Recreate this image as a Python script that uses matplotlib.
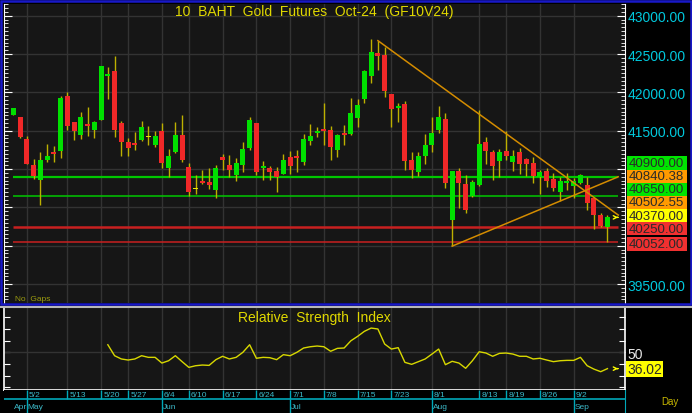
import matplotlib
matplotlib.use("Agg")
import matplotlib.pyplot as plt
import matplotlib.transforms as mtransforms
from matplotlib.patches import Rectangle
from matplotlib.lines import Line2D
from matplotlib.ticker import MultipleLocator, FuncFormatter
import numpy as np

plt.rcParams["font.family"] = ["Liberation Sans", "DejaVu Sans"]

# daily bars 4/29 .. 9/9, one entry per trading day
opens = [41705, 41679, 41392, 41053, 40862, 41119, 41227, 41240, 41949, 41610,
         41445, 41588, 41514, 41644, 42214, 42279, 41601, 41349, 41340, 41379,
         41423, 41314, 41501, 41019, 41219, 41445, 41027, 40736, 40849, 40827,
         40727, 41158, 41058, 40927, 41058, 41279, 41601, 41019, 41014, 40975,
         40936, 41162, 41166, 41088, 41366, 41466, 41523, 41514, 41253, 41466,
         41453, 41666, 41914, 42218, 42514, 42492, 41979, 41801, 41849, 41119,
         40967, 41166, 41319, 41514, 41653, 40341, 40971, 40801, 40645, 40793,
         41349, 41219, 41106, 41236, 41097, 41227, 41127, 41080, 40897, 40975,
         40875, 40706, 40819, 40784, 40819, 40793, 40619, 40402, 40249]
highs = [41795, 41685, 41427, 41132, 41227, 41327, 41306, 41957, 42010, 41610,
         41740, 41805, 41631, 42345, 42327, 42479, 41623, 41401, 41488, 41627,
         41566, 41501, 41601, 41262, 41610, 41705, 41080, 40923, 40993, 41019,
         41053, 41192, 41184, 41140, 41358, 41679, 41605, 41101, 41045, 41023,
         41192, 41240, 41253, 41453, 41588, 41553, 41857, 41557, 41453, 41575,
         41927, 41914, 42296, 42697, 42665, 42588, 41985, 41862, 41892, 41219,
         41227, 41453, 41675, 41818, 41731, 40975, 41010, 40927, 40862, 41775,
         41423, 41253, 41262, 41501, 41253, 41275, 41145, 41153, 40988, 41010,
         40949, 40893, 40949, 40880, 40936, 40893, 40625, 40428, 40402]
lows = [41700, 41410, 41060, 40871, 40536, 41088, 41088, 41140, 41514, 41379,
        41392, 41436, 41401, 41640, 41914, 41414, 41175, 41175, 41253, 41366,
        41319, 41292, 41019, 40897, 41210, 41097, 40645, 40675, 40806, 40740,
        40623, 40988, 40901, 40849, 40966, 41253, 40923, 40862, 40862, 40706,
        40932, 40936, 40966, 41058, 41314, 41423, 41314, 41123, 41158, 41314,
        41445, 41553, 41862, 42123, 42296, 41944, 41553, 41618, 40993, 40880,
        40914, 41067, 41227, 41471, 40749, 39995, 40493, 40423, 40632, 40775,
        41067, 40862, 40901, 41119, 40975, 40936, 40914, 40814, 40675, 40771,
        40719, 40588, 40732, 40619, 40806, 40471, 40219, 40241, 40052]
closes = [41790, 41414, 41067, 40914, 41123, 41166, 41193, 41927, 41566, 41497,
          41675, 41562, 41610, 42340, 42240, 41514, 41358, 41280, 41319, 41553,
          41423, 41427, 41084, 41175, 41445, 41119, 40706, 40736, 40814, 40793,
          41010, 41114, 40988, 41080, 41262, 41644, 40958, 41040, 40962, 40901,
          41114, 41040, 41140, 41392, 41427, 41501, 41492, 41288, 41445, 41440,
          41732, 41840, 42279, 42531, 42479, 42023, 41784, 41827, 41110, 40993,
          41166, 41314, 41466, 41675, 40819, 40975, 40819, 40467, 40827, 41327,
          41240, 41045, 41227, 41175, 41166, 41067, 41067, 40914, 40958, 40840,
          40754, 40849, 40849, 40849, 40923, 40554, 40406, 40258, 40370]

# RSI(14), first value on bar 14
rsi_start = 14
rsi = [56.5, 47.1, 44.3, 43.4, 44.3, 47.1, 45.7, 45.7, 40.8, 42.8,
       47.1, 42.0, 37.1, 38.5, 39.1, 38.8, 43.7, 46.6, 44.3, 45.7,
       50.0, 56.5, 44.9, 45.7, 45.4, 43.7, 48.0, 47.1, 50.0, 53.7,
       54.8, 55.4, 54.8, 50.9, 53.4, 53.7, 59.9, 63.7, 68.0, 70.8,
       70.0, 57.1, 52.8, 54.0, 41.4, 39.7, 42.0, 44.3, 48.5, 52.8,
       39.4, 42.3, 40.8, 36.3, 42.8, 50.5, 49.4, 46.6, 49.1, 49.4,
       48.5, 46.6, 46.6, 44.3, 44.9, 43.4, 42.0, 42.8, 43.1, 43.1,
       45.7, 38.5, 35.6, 33.4, 36.02]

# time axis (bar index of each label)
day_labels = ["5/2", "5/13", "5/20", "5/27", "6/4", "6/10", "6/17", "6/24", "7/1",
              "7/8", "7/15", "7/23", "8/1", "8/13", "8/19", "8/26", "9/2"]
day_pos = [2, 8, 13, 17, 22, 26, 31, 36, 41, 46, 51, 56, 62, 69, 73, 78, 83]
month_labels = ["Apr", "May", "Jun", "Jul", "Aug", "Sep"]
month_pos = [0, 2, 22, 41, 62, 83]

# horizontal levels and trend lines
support_levels = [40900, 40650]
resist_levels = [40250, 40052]
down_trend = ([54, 88], [42675, 40502.55])
up_trend = ([65, 88], [39995, 40840.38])

# right-hand price labels
tag_values = [40900.00, 40840.38, 40650.00, 40502.55, 40370.00, 40250.00, 40052.00]
tag_colors = ["#00e400", "#ff9a00", "#00e400", "#ff9a00", "#ffff00", "#f03030", "#f03030"]

BG = "#161616"
GRID = "#333333"
GREEN = "#00e000"
RED = "#f02828"
WICK = "#bdb000"
CYAN = "#00c8dc"
YEL = "#e0d800"

W, H = 692, 414


def px_rect(l, t, r, b):
    return [l / W, 1 - b / H, (r - l) / W, (b - t) / H]


fig = plt.figure(figsize=(W / 100, H / 100), dpi=100, facecolor="black")
ax = fig.add_axes(px_rect(4, 5, 625, 304), facecolor=BG)
ax_r = fig.add_axes(px_rect(4, 309, 625, 391), facecolor=BG, sharex=ax)
ax_d = fig.add_axes(px_rect(4, 391, 625, 414), facecolor="black", sharex=ax)

x = np.arange(len(closes))
o, h, l, c = (np.array(v, dtype=float) for v in (opens, highs, lows, closes))
x_end = 89.6

# ---- main price panel
for lev in support_levels:
    ax.hlines(lev, 0, x_end, color="#00c800", lw=1.6 if lev == support_levels[0] else 1.1, zorder=2)
for lev in resist_levels:
    ax.hlines(lev, 0, x_end, color="#c82020", lw=1.8 if lev == resist_levels[0] else 1.1, zorder=2)

ax.vlines(x, l, h, color=WICK, lw=1, zorder=3)
body_col = np.where(c > o, GREEN, RED)
body_col = np.where(np.abs(c - o) < 5, "#e8e800", body_col)
ax.bar(x, np.maximum(np.abs(c - o), 12), bottom=np.minimum(o, c), width=0.74,
       color=body_col, zorder=4)

for (xs, ys) in (down_trend, up_trend):
    slope = (ys[1] - ys[0]) / (xs[1] - xs[0])
    ax.plot([xs[0], x_end], [ys[0], ys[1] + slope * (x_end - xs[1])],
            color="#d48c00", lw=1.1, zorder=5)

arrow = dict(arrowstyle="->", color="#ffff00", lw=1, mutation_scale=6)
ax.annotate("", xy=(x_end + 0.4, closes[-1]), xytext=(x_end - 0.5, closes[-1]),
            arrowprops=arrow, zorder=6)

# stacked value tags on the price scale (pushed up so they do not overlap)
tag_h = 172
prev = -1e9
centers = []
for v in sorted(tag_values):
    cy = max(v - 30, prev + tag_h)
    centers.append(cy)
    prev = cy
tag_lo = centers[0] - tag_h / 2 - 60
tag_hi = centers[-1] + tag_h / 2 + 60

ax.set_xlim(-1.38, 90.6)
ax.set_ylim(39253, 43153)
ax.set_xticks(day_pos)
ax.tick_params(axis="x", which="both", bottom=False, labelbottom=False)
ax.yaxis.set_major_locator(MultipleLocator(500))
ax.yaxis.set_minor_locator(MultipleLocator(50))
# scale labels hidden behind the tag stack are left out
ax.yaxis.set_major_formatter(FuncFormatter(
    lambda v, p: "" if tag_lo < v < tag_hi else f"{v:.2f}"))
ax.tick_params(axis="y", which="both", direction="in", left=True, right=True,
               labelleft=False, labelright=True, color="white", labelcolor=CYAN,
               labelsize=10, pad=2)
ax.tick_params(axis="y", which="major", length=6)
ax.tick_params(axis="y", which="minor", length=3)
ax.grid(True, which="major", color=GRID, lw=1)
ax.set_axisbelow(True)
for side in ("top", "bottom"):
    ax.spines[side].set_visible(False)
for side in ("left", "right"):
    ax.spines[side].set_color("white")

ax.text(0.5, 0.977, "10  BAHT  Gold  Futures  Oct-24  (GF10V24)", transform=ax.transAxes,
        ha="center", va="center", color=YEL, fontsize=10)
ax.text(0.018, 0.004, "No  Gaps", transform=ax.transAxes, ha="left", va="bottom",
        color="#9c9c10", fontsize=6)

trans = mtransforms.blended_transform_factory(ax.transAxes, ax.transData)
order = sorted(range(len(tag_values)), key=lambda i: tag_values[i])
for k, i in enumerate(order):
    cy = centers[k]
    ax.add_patch(Rectangle((1.0027, cy - tag_h / 2), 0.0966, tag_h, transform=trans,
                           facecolor=tag_colors[i], edgecolor="none", clip_on=False, zorder=10))
    ax.text(1.0055, cy, f"{tag_values[i]:.2f}", transform=trans, ha="left", va="center",
            color="#2a2a2a", fontsize=9.5, clip_on=False, zorder=11)

# ---- RSI panel
xr = np.arange(rsi_start, rsi_start + len(rsi))
ax_r.axhline(50, color=GRID, lw=1, zorder=1)
ax_r.plot(xr, rsi, color="#d8d800", lw=1, zorder=3)
ax_r.annotate("", xy=(x_end + 0.4, rsi[-1]), xytext=(x_end - 0.5, rsi[-1]), arrowprops=arrow)
ax_r.set_ylim(17.7, 88)
ax_r.set_yticks(np.arange(20, 90, 10))
ax_r.yaxis.set_major_formatter(FuncFormatter(lambda v, p: "50" if abs(v - 50) < 0.1 else ""))
ax_r.tick_params(axis="y", direction="in", left=True, right=True, labelleft=False,
                 labelright=True, color="white", labelcolor="#e8e8e8", labelsize=10,
                 length=4, pad=2)
ax_r.tick_params(axis="x", which="both", bottom=False, labelbottom=False)
ax_r.grid(True, axis="x", color=GRID, lw=1)
ax_r.set_axisbelow(True)
ax_r.spines["top"].set_visible(False)
for side in ("left", "right", "bottom"):
    ax_r.spines[side].set_color("white")
    ax_r.spines[side].set_linewidth(1.2)
ax_r.text(0.5, 0.89, "Relative  Strength  Index", transform=ax_r.transAxes,
          ha="center", va="center", color=YEL, fontsize=10)
rtrans = mtransforms.blended_transform_factory(ax_r.transAxes, ax_r.transData)
ax_r.text(1.004, rsi[-1], f"{rsi[-1]:.2f}", transform=rtrans, ha="left", va="center",
          color="#2a2a2a", fontsize=10, clip_on=False, zorder=11,
          bbox=dict(boxstyle="square,pad=0.08", facecolor="#ffff00", edgecolor="none"))

# ---- date strip
split = 0.6
ax_d.set_ylim(0, 1)
ax_d.axhline(split, color="#00a8b8", lw=1.2)
ax_d.vlines(day_pos, split, 1, color="#00a8b8", lw=1)
ax_d.vlines(month_pos[1:], 0, split, color="#00a8b8", lw=1)
for p, lab in zip(day_pos, day_labels):
    ax_d.annotate(lab, (p, 0.8), xytext=(1.5, 0), textcoords="offset points",
                  ha="left", va="center", color="#3cb8c8", fontsize=6)
for p, lab in zip(month_pos, month_labels):
    ax_d.annotate(lab, (p, 0.3), xytext=(0.5, 0), textcoords="offset points",
                  ha="left", va="center", color="#3cb8c8", fontsize=6)
ax_d.set_yticks([])
ax_d.tick_params(axis="x", which="both", bottom=False, labelbottom=False)
for side in ("top", "left", "bottom"):
    ax_d.spines[side].set_visible(False)
ax_d.spines["right"].set_color("#00a8b8")
fig.text(670 / W, 1 - 402 / H, "Day", ha="center", va="center", color="#c8b800", fontsize=7)

# ---- panel frames
fig.add_artist(Rectangle((1.5 / W, 1 - 305 / H), 689 / W, 303.5 / H, transform=fig.transFigure,
                         fill=False, edgecolor="#1818c8", lw=1.8))
fig.add_artist(Line2D([0, 1], [1 - 307.5 / H] * 2, transform=fig.transFigure,
                      color="#b8b8b8", lw=1.5))

fig.savefig("out.png", dpi=100, facecolor="black")
